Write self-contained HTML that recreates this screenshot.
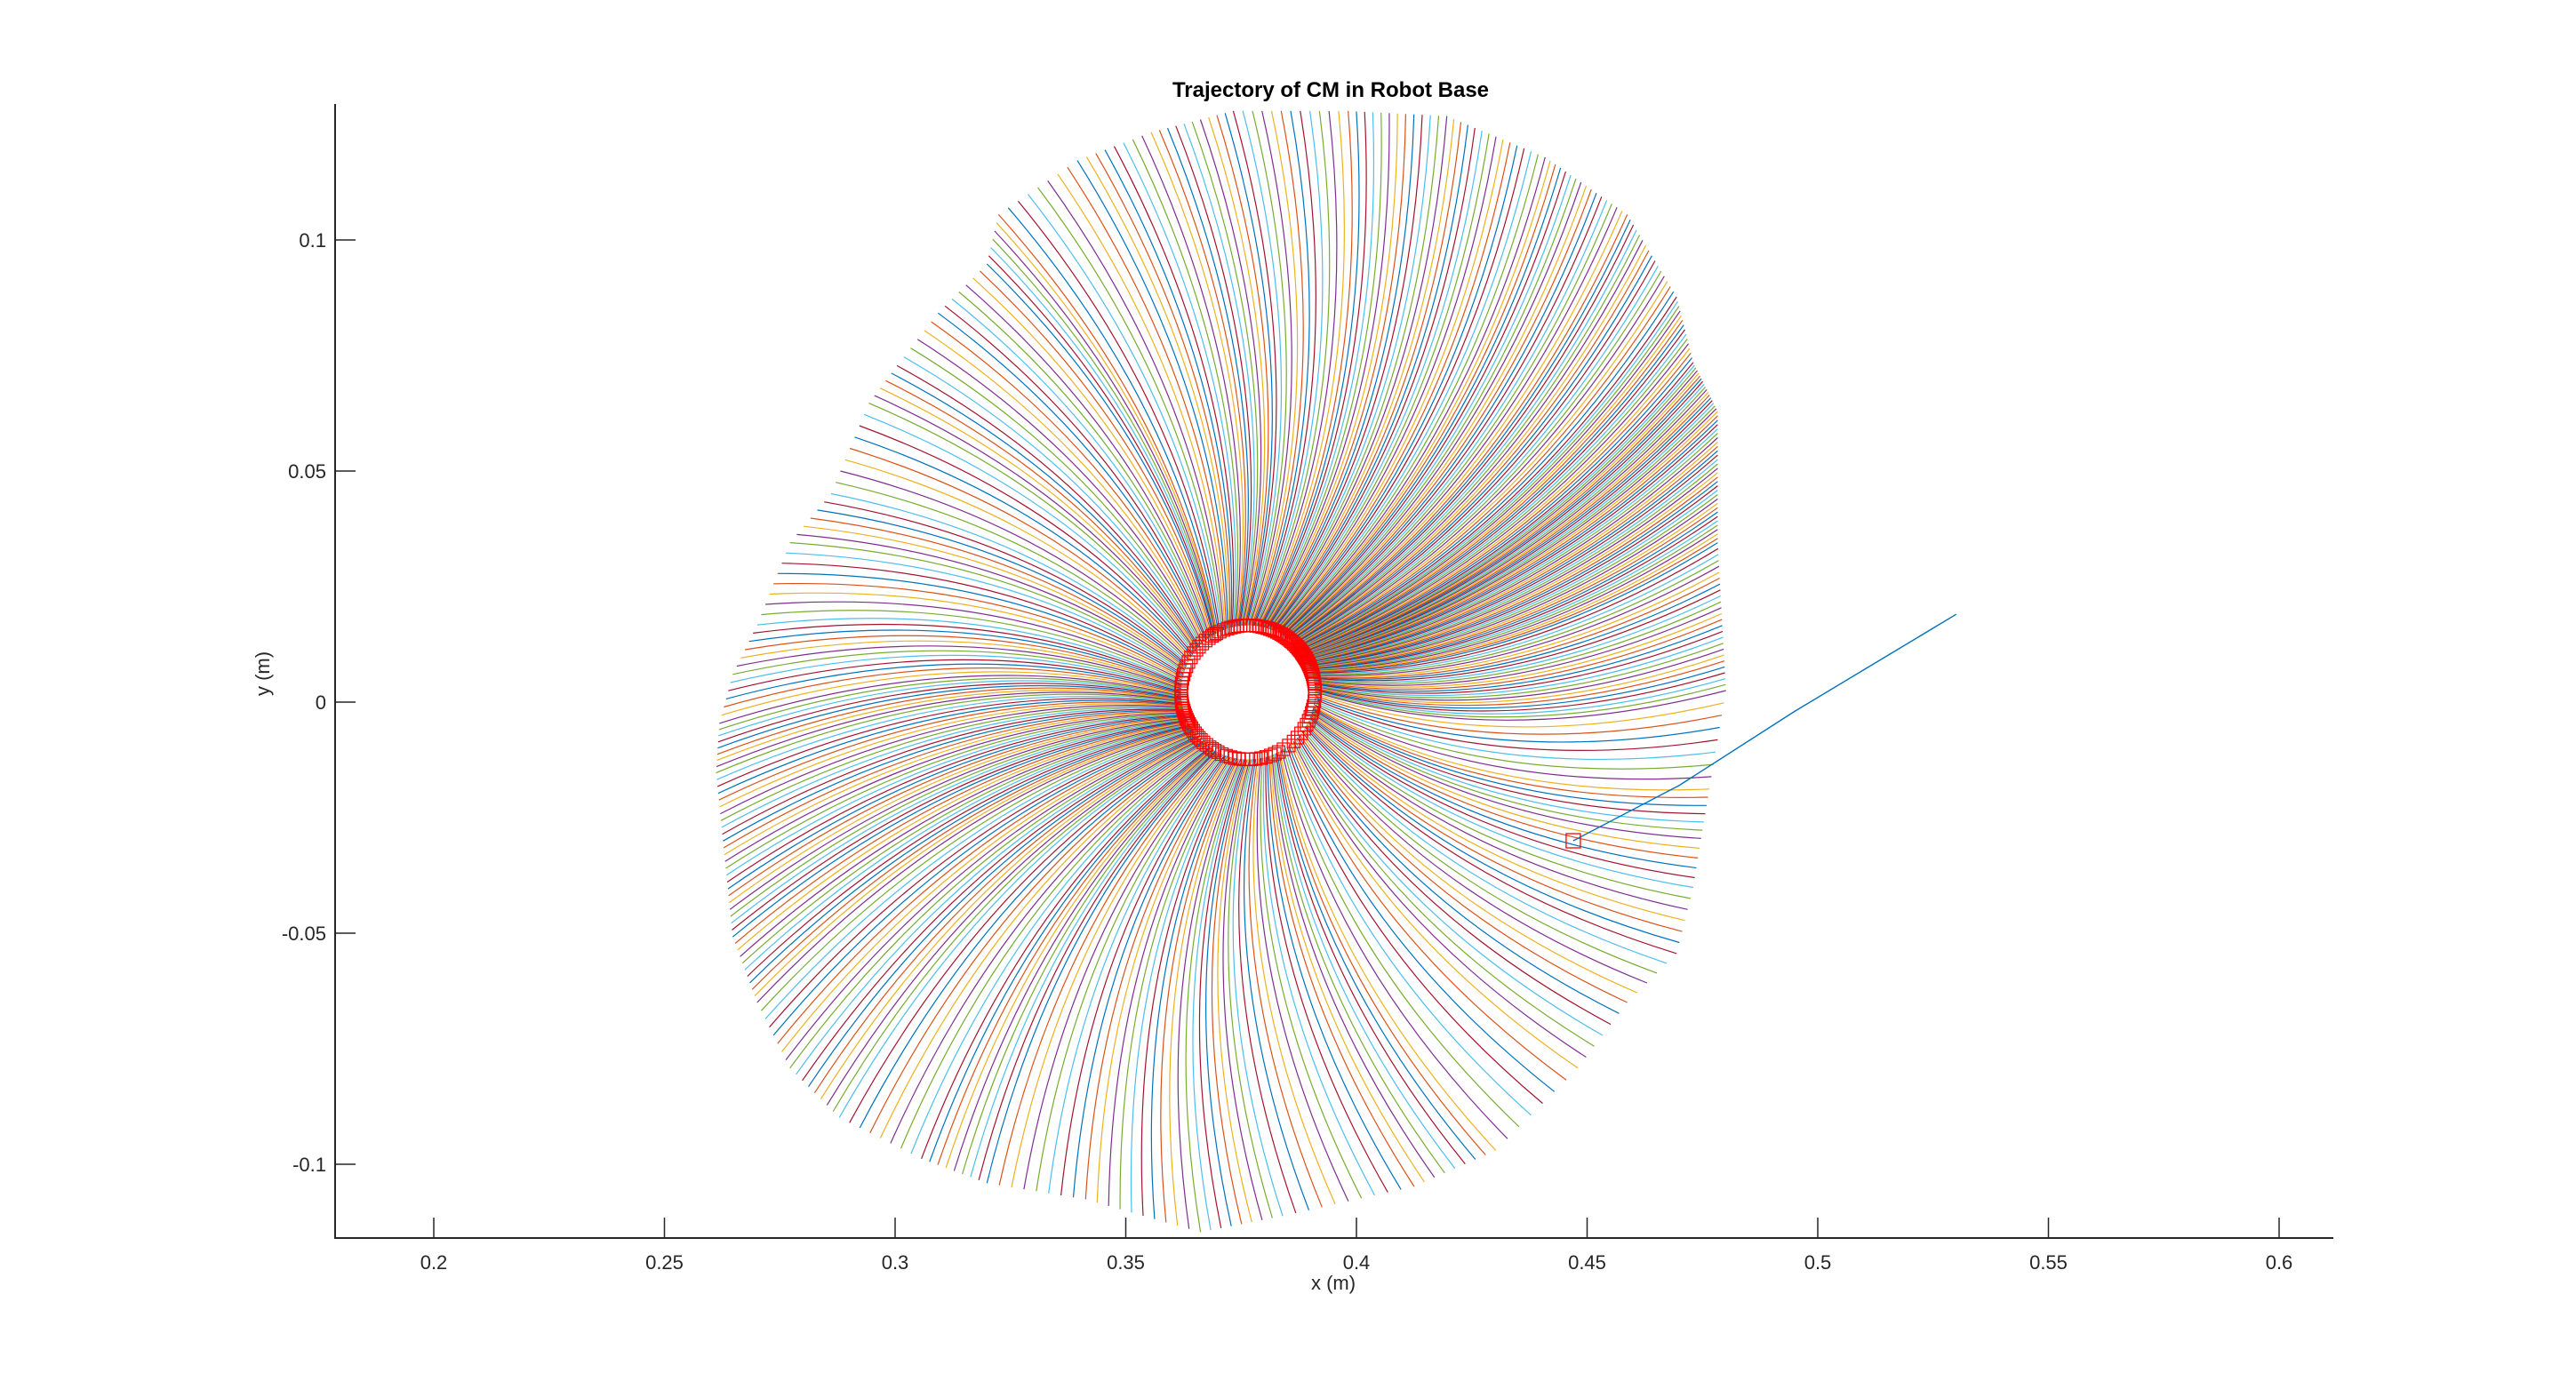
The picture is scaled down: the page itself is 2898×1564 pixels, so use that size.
<!DOCTYPE html>
<html><head><meta charset="utf-8"><style>
html,body{margin:0;padding:0;background:#fff}
svg{display:block;font-family:"Liberation Sans","DejaVu Sans",sans-serif}
</style></head><body>
<svg id="chart" width="2898" height="1564" viewBox="0 0 2898 1564">
<rect width="2898" height="1564" fill="#fff"/>
<g id="plot"></g>
<g id="axes"></g>
<text x="1497" y="109" text-anchor="middle" font-size="24" font-weight="bold" fill="#000">Trajectory of CM in Robot Base</text>
<text x="1500" y="1451" text-anchor="middle" font-size="22" fill="#262626">x (m)</text>
<text x="0" y="0" transform="translate(303,758) rotate(-90)" text-anchor="middle" font-size="22" fill="#262626">y (m)</text>
</svg>
<script>
const xTicks=[0.2,0.25,0.3,0.35,0.4,0.45,0.5,0.55,0.6];
const xTickLabels=["0.2","0.25","0.3","0.35","0.4","0.45","0.5","0.55","0.6"];
const yTicks=[-0.1,-0.05,0,0.05,0.1];
const yTickLabels=["-0.1","-0.05","0","0.05","0.1"];
const centerX=0.3765, centerY=0.0021, ringR=0.0145;
const endX=[0.3395,0.3224,0.3199,0.3093,0.3004,0.2943,0.2861,0.2772,0.2701,0.2648,0.2619,0.2612,0.2630,0.2648,0.2701,0.2772,0.2879,0.3057,0.3199,0.3413,0.3662,0.3840,0.4125,0.4302,0.4480,0.4587,0.4694,0.4730,0.4747,0.4765,0.4801,0.4783,0.4783,0.4730,0.4694,0.4587,0.4409,0.4196,0.3982,0.3733,0.3555];
const endY=[0.1172,0.1055,0.0948,0.0842,0.0728,0.0647,0.0451,0.0345,0.0167,0.0060,-0.0046,-0.0153,-0.0330,-0.0508,-0.0650,-0.0792,-0.0899,-0.0988,-0.1041,-0.1076,-0.1147,-0.1112,-0.1048,-0.0970,-0.0792,-0.0650,-0.0544,-0.0401,-0.0295,-0.0188,0.0025,0.0345,0.0629,0.0735,0.0877,0.1055,0.1179,0.1268,0.1279,0.1279,0.1233];
const segCount=[8,6,7,6,5,8,6,8,6,6,8,12,12,10,8,8,8,8,8,10,8,10,8,7,6,5,6,5,6,8,25,30,18,14,16,16,14,12,12,10,8];
const outlierX=[0.447,0.470,0.495,0.515,0.530];
const outlierY=[-0.030,-0.018,-0.002,0.010,0.019];
const X0=488, XS=5190, Y0=790, YS=5200;
const X=v=>X0+(v-0.2)*XS, Y=v=>Y0-v*YS;
const colors=["#0072BD","#D95319","#EDB120","#7E2F8E","#77AC30","#4DBEEE","#A2142F"];
const NS="http://www.w3.org/2000/svg";
const plot=document.getElementById('plot'), axes=document.getElementById('axes');
function mk(t,a,p){const e=document.createElementNS(NS,t);for(const k in a)e.setAttribute(k,a[k]);(p||plot).appendChild(e);return e;}
let ci=0; const starts=[];
for(let i=0;i<endX.length;i++){
  const j=(i+1)%endX.length;
  for(let k=0;k<segCount[i];k++){
    const t=k/segCount[i];
    const ex=endX[i]+(endX[j]-endX[i])*t, ey=endY[i]+(endY[j]-endY[i])*t;
    const ang=Math.atan2(ey-centerY,ex-centerX);
    const sx=centerX+ringR*Math.cos(ang), sy=centerY+ringR*Math.sin(ang);
    const px1=X(sx),py1=Y(sy),px2=X(ex),py2=Y(ey);
    const dx=px2-px1,dy=py2-py1,len=Math.hypot(dx,dy);
    const cx=px1+dx*0.45+(-dy/len)*len*0.14, cy=py1+dy*0.45+(dx/len)*len*0.14;
    const p=mk('path',{d:`M${px1.toFixed(1)},${py1.toFixed(1)} Q${cx.toFixed(1)},${cy.toFixed(1)} ${px2.toFixed(1)},${py2.toFixed(1)}`,fill:'none',stroke:colors[ci%7],'stroke-width':1.2});
    
    
    ci++; starts.push([px1,py1]);
  }
}
const disk=mk('circle',{cx:X(centerX),cy:Y(centerY),r:ringR*XS-2,fill:'#fff'});


starts.forEach((s,i)=>{
  if(i%3) return;
  const r=mk('rect',{x:s[0]-7,y:s[1]-7,width:14,height:14,fill:'none',stroke:'#ff0000','stroke-width':1.2});
  
  
});
let d='M'+outlierX.map((v,i)=>X(v).toFixed(1)+','+Y(outlierY[i]).toFixed(1)).join(' L');
const ol=mk('path',{d:d,fill:'none',stroke:'#0072BD','stroke-width':1.4});


const om=mk('rect',{x:X(outlierX[0])-8,y:Y(outlierY[0])-8,width:16,height:16,fill:'none',stroke:'#ff0000','stroke-width':1.3});


const L=377,R=2625,T=117,B=1393;
const ax=mk('path',{d:`M${L},${T} L${L},${B} L${R},${B}`,fill:'none',stroke:'#262626','stroke-width':2},axes);


xTicks.forEach((v,i)=>{
  const x=X(v);
  const t=mk('line',{x1:x,x2:x,y1:B,y2:B-23,stroke:'#262626','stroke-width':1.5},axes);
  
  
  const l=mk('text',{x:x,y:B+35,'text-anchor':'middle','font-size':22,fill:'#262626'},axes);
  l.textContent=xTickLabels[i];
  
  
});
yTicks.forEach((v,i)=>{
  const y=Y(v);
  const t=mk('line',{x1:L,x2:L+23,y1:y,y2:y,stroke:'#262626','stroke-width':1.5},axes);
  
  
  const l=mk('text',{x:L-10,y:y+8,'text-anchor':'end','font-size':22,fill:'#262626'},axes);
  l.textContent=yTickLabels[i];
  
  
});
</script>
</body></html>
